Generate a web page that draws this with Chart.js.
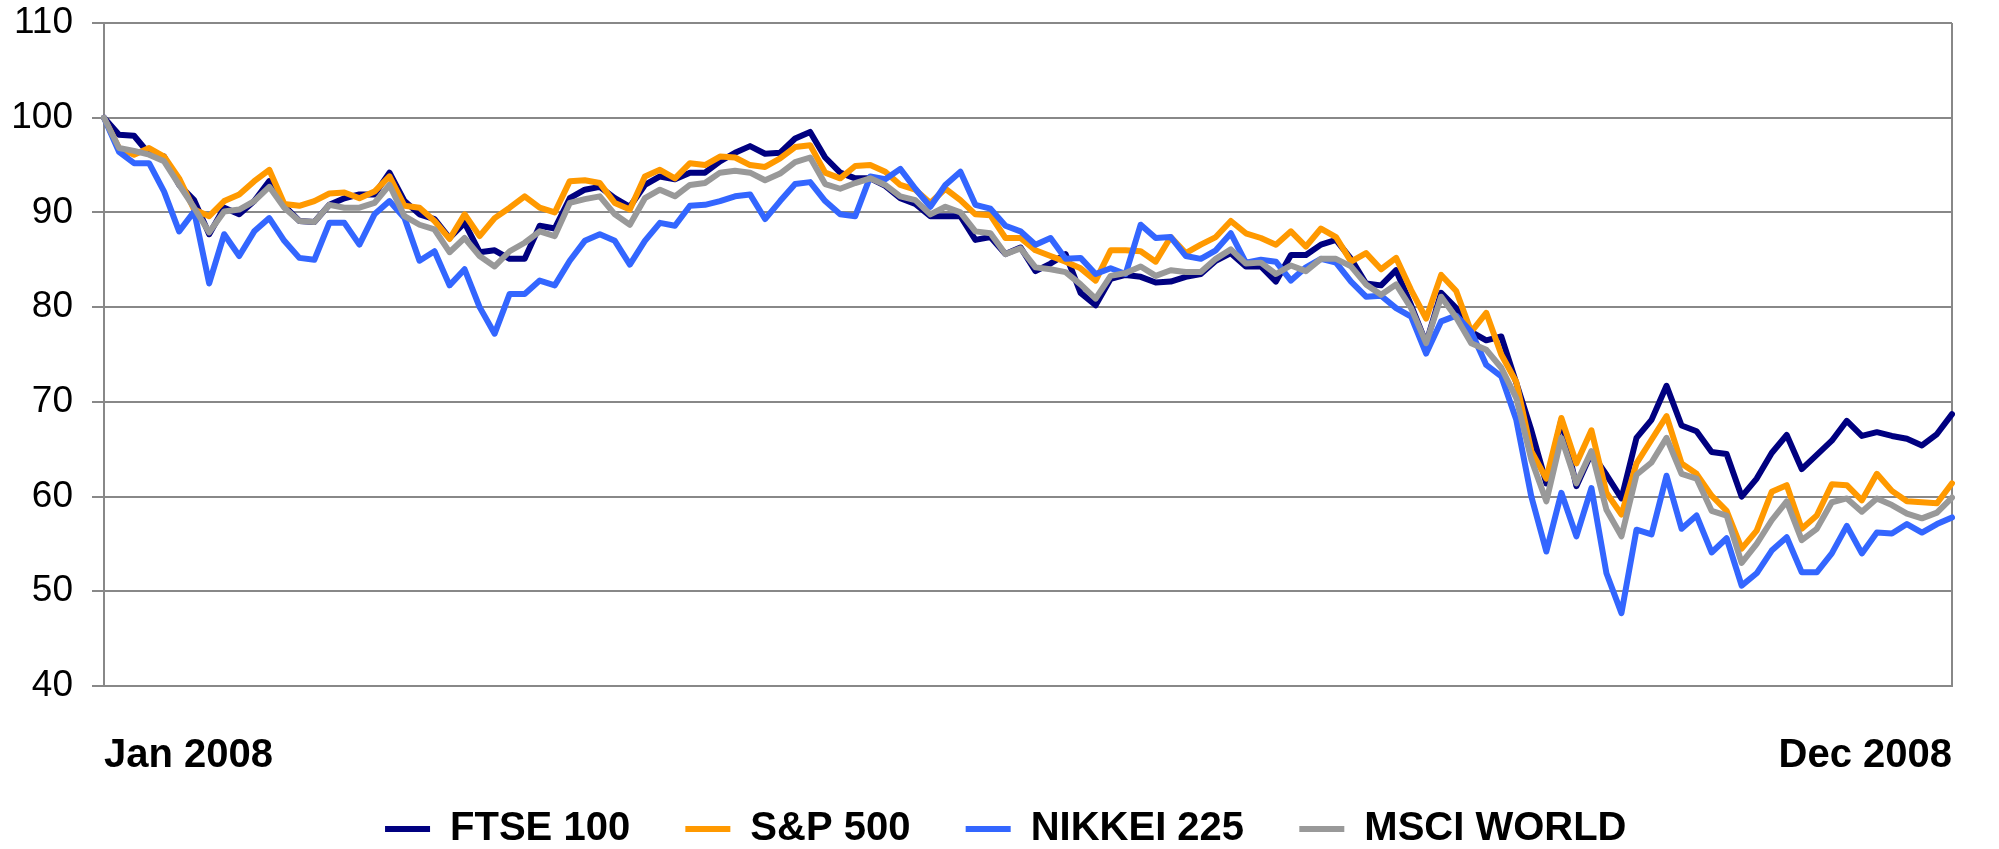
<!DOCTYPE html>
<html lang="en">
<head>
<meta charset="utf-8">
<title>FTSE 100, S&amp;P 500, NIKKEI 225, MSCI WORLD - 2008</title>
<script src="https://cdn.jsdelivr.net/npm/chart.js@4.4.1/dist/chart.umd.min.js"></script>
<style>
    html, body { margin: 0; padding: 0; background: #ffffff; }
    #area-grafico { width: 1999px; height: 849px; position: relative; }
</style>
</head>
<body>
<div id="area-grafico"><canvas id="grafico-indices"></canvas></div>
<script>
// valores (base 100 em Jan 2008), um ponto a cada ~2 pregoes
const serieFtse = [
    100.0, 98.2, 98.1, 96.2, 95.9, 92.9, 91.3, 87.7, 90.5, 89.8, 91.2, 93.3, 90.7, 89.1, 89.0, 90.8,
    91.5, 91.9, 91.9, 94.2, 91.2, 89.8, 89.3, 87.3, 88.9, 85.8, 86.0, 85.1, 85.1, 88.6, 88.3, 91.5,
    92.4, 92.7, 91.5, 90.6, 92.9, 93.8, 93.5, 94.2, 94.2, 95.4, 96.3, 97.0, 96.2, 96.3, 97.8, 98.5,
    95.8, 94.2, 93.6, 93.6, 92.8, 91.5, 90.9, 89.6, 89.6, 89.6, 87.1, 87.4, 85.6, 86.3, 83.8, 84.6,
    85.6, 81.5, 80.2, 83.0, 83.4, 83.2, 82.6, 82.7, 83.2, 83.5, 84.9, 85.7, 84.3, 84.3, 82.7, 85.5,
    85.5, 86.6, 87.1, 85.1, 82.5, 82.3, 83.9, 80.2, 76.2, 81.5, 79.9, 77.4, 76.5, 76.9, 72.0, 67.0,
    61.4, 68.1, 61.1, 64.6, 62.3, 59.8, 66.2, 68.1, 71.7, 67.5, 66.9, 64.7, 64.5, 60.0, 61.9, 64.6,
    66.5, 62.9, 64.4, 65.9, 68.0, 66.4, 66.8, 66.4, 66.1, 65.4, 66.6, 68.7
];
const serieSp = [
    100.0, 96.8, 96.1, 96.8, 95.9, 93.6, 90.3, 89.6, 91.2, 91.9, 93.3, 94.5, 90.9, 90.7, 91.2, 92.0,
    92.1, 91.5, 92.2, 93.8, 90.7, 90.5, 89.1, 87.2, 89.8, 87.5, 89.4, 90.5, 91.7, 90.5, 90.0, 93.3,
    93.4, 93.1, 91.0, 90.3, 93.8, 94.5, 93.6, 95.2, 95.0, 95.9, 95.8, 95.0, 94.8, 95.7, 96.9, 97.1,
    94.2, 93.6, 94.9, 95.0, 94.3, 92.9, 92.4, 91.0, 92.5, 91.3, 89.8, 89.7, 87.3, 87.3, 86.0, 85.4,
    84.8, 84.1, 82.8, 86.0, 86.0, 85.9, 84.8, 87.4, 85.7, 86.6, 87.4, 89.1, 87.8, 87.3, 86.6, 88.0,
    86.4, 88.3, 87.4, 84.8, 85.7, 84.0, 85.2, 81.8, 78.8, 83.4, 81.7, 77.4, 79.4, 75.0, 72.1, 64.8,
    61.9, 68.3, 63.5, 67.0, 60.4, 58.1, 63.5, 66.0, 68.5, 63.5, 62.4, 60.1, 58.5, 54.5, 56.4, 60.5,
    61.2, 56.6, 58.0, 61.3, 61.2, 59.6, 62.4, 60.6, 59.5, 59.4, 59.3, 61.4
];
const serieNikkei = [
    100.0, 96.4, 95.2, 95.2, 92.2, 88.0, 90.1, 82.5, 87.7, 85.4, 88.0, 89.4, 87.0, 85.2, 85.0, 88.9,
    88.9, 86.6, 89.8, 91.2, 89.4, 84.9, 85.9, 82.3, 84.0, 80.0, 77.2, 81.4, 81.4, 82.8, 82.3, 84.9,
    87.0, 87.7, 87.0, 84.5, 87.0, 88.9, 88.6, 90.7, 90.8, 91.2, 91.7, 91.9, 89.3, 91.2, 93.0, 93.2,
    91.2, 89.8, 89.6, 93.8, 93.5, 94.6, 92.5, 90.6, 92.9, 94.3, 90.8, 90.4, 88.6, 88.0, 86.6, 87.3,
    85.1, 85.2, 83.5, 84.1, 83.5, 88.7, 87.3, 87.4, 85.4, 85.1, 86.0, 87.8, 84.7, 85.0, 84.8, 82.8,
    84.2, 85.1, 84.7, 82.7, 81.1, 81.2, 79.9, 79.0, 75.1, 78.5, 79.1, 77.4, 73.9, 72.7, 68.1, 60.0,
    54.2, 60.4, 55.8, 60.9, 51.9, 47.7, 56.5, 56.0, 62.2, 56.6, 58.0, 54.1, 55.6, 50.6, 51.9, 54.3,
    55.7, 52.0, 52.0, 54.0, 56.9, 54.0, 56.2, 56.1, 57.1, 56.2, 57.1, 57.8
];
const serieMsci = [
    100.0, 96.8, 96.5, 96.1, 95.4, 92.9, 90.5, 87.9, 90.1, 90.3, 91.2, 92.7, 90.5, 89.1, 89.0, 90.8,
    90.5, 90.5, 91.0, 92.9, 89.6, 88.7, 88.2, 85.8, 87.3, 85.4, 84.3, 85.9, 86.8, 88.0, 87.5, 91.0,
    91.4, 91.7, 89.8, 88.7, 91.5, 92.4, 91.7, 92.9, 93.1, 94.2, 94.4, 94.2, 93.4, 94.1, 95.3, 95.8,
    93.0, 92.5, 93.1, 93.6, 92.9, 91.7, 91.3, 89.8, 90.6, 90.0, 88.0, 87.8, 85.6, 86.2, 84.2, 84.0,
    83.7, 82.4, 80.9, 83.3, 83.6, 84.3, 83.3, 83.9, 83.7, 83.7, 85.1, 86.1, 84.6, 84.7, 83.5, 84.4,
    83.8, 85.1, 85.1, 84.3, 82.4, 81.3, 82.4, 79.9, 76.2, 81.1, 78.9, 76.2, 75.5, 73.6, 70.4, 63.9,
    59.5, 66.2, 61.4, 64.8, 58.6, 55.8, 62.3, 63.6, 66.2, 62.4, 61.9, 58.5, 58.0, 53.0, 55.0, 57.5,
    59.5, 55.4, 56.6, 59.4, 59.8, 58.4, 59.8, 59.1, 58.2, 57.7, 58.3, 59.9
];
const nomesSeries = ['FTSE 100', 'S&P 500', 'NIKKEI 225', 'MSCI WORLD'];
const rotulosEixoX = ['Jan 2008', 'Dec 2008'];
const ticksEixoY = [40, 50, 60, 70, 80, 90, 100, 110];

document.addEventListener('DOMContentLoaded', () => {
    const COR_GRADE = '#888888';
    const cores = ['#000080', '#FF9900', '#3366FF', '#999999'];
    const valores = [serieFtse, serieSp, serieNikkei, serieMsci];
    const ultimo = serieFtse.length - 1;

    // so o primeiro e o ultimo ponto levam rotulo
    const categorias = serieFtse.map((_, i) => {
        if (i === 0) return rotulosEixoX[0];
        if (i === ultimo) return rotulosEixoX[1];
        return '';
    });

    Chart.defaults.font.family = "'Liberation Sans', Arial, sans-serif";
    Chart.defaults.color = '#000000';

    const ctx = document.getElementById('grafico-indices').getContext('2d');
    new Chart(ctx, {
        type: 'line',
        data: {
            labels: categorias,
            datasets: nomesSeries.map((nome, i) => ({
                label: nome,
                data: valores[i],
                borderColor: cores[i],
                backgroundColor: cores[i],
                borderWidth: 6,
                borderJoinStyle: 'round',
                borderCapStyle: 'round',
                pointRadius: 0,
                tension: 0,
                // como no Excel: a ultima serie fica por cima
                order: nomesSeries.length - 1 - i
            }))
        },
        options: {
            responsive: true,
            maintainAspectRatio: false,
            devicePixelRatio: 1,
            animation: false,
            layout: {
                padding: { top: 23, left: 14, right: 47, bottom: -10 }
            },
            scales: {
                x: {
                    grid: {
                        drawTicks: false,
                        lineWidth: 2,
                        color: (c) => c.index === ultimo ? COR_GRADE : 'transparent'
                    },
                    border: { display: true, color: COR_GRADE, width: 2 },
                    ticks: {
                        autoSkip: false,
                        maxRotation: 0,
                        align: 'inner',
                        padding: 46,
                        color: '#000000',
                        font: { size: 40, weight: 'bold' }
                    },
                    afterFit: (escala) => {
                        escala.height = 90;
                        escala.paddingLeft = 0;
                        escala.paddingRight = 0;
                    }
                },
                y: {
                    min: ticksEixoY[0],
                    max: ticksEixoY[ticksEixoY.length - 1],
                    grid: { color: COR_GRADE, lineWidth: 2, tickLength: 12 },
                    border: { display: true, color: COR_GRADE, width: 2 },
                    ticks: {
                        stepSize: 10,
                        padding: 19,
                        color: '#000000',
                        font: { size: 37 }
                    },
                    afterFit: (escala) => {
                        escala.width = 90;
                        escala.paddingTop = 0;
                        escala.paddingBottom = 0;
                    }
                }
            },
            plugins: {
                legend: {
                    position: 'bottom',
                    fullSize: false,
                    labels: {
                        usePointStyle: true,
                        pointStyle: 'line',
                        pointStyleWidth: 45,
                        padding: 33,
                        color: '#000000',
                        font: { size: 40, weight: 'bold' },
                        sort: (a, b) => a.datasetIndex - b.datasetIndex,
                        // espaco extra entre os itens, como na legenda original
                        generateLabels: (grafico) => {
                            const itens = Chart.defaults.plugins.legend.labels.generateLabels(grafico);
                            itens.forEach((item) => {
                                item.text += item.datasetIndex < nomesSeries.length - 1 ? '  ' : '    ';
                            });
                            return itens;
                        }
                    }
                },
                tooltip: { enabled: false }
            }
        }
    });
});
</script>
</body>
</html>
